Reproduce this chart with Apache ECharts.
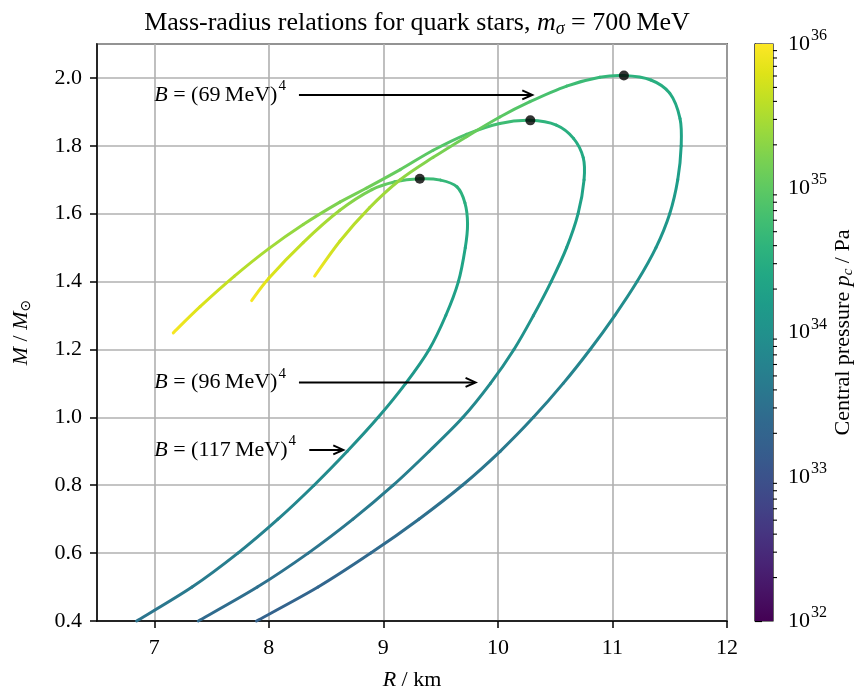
<!DOCTYPE html>
<html><head><meta charset="utf-8">
<script src="https://cdn.jsdelivr.net/npm/echarts/dist/echarts.min.js"></script>
<style>html,body{margin:0;padding:0;background:#fff}#c{width:859px;height:689px}</style>
</head><body><div id="c"></div>
<script>
// ---------------- data ----------------
// Curve for B = (117 MeV)^4
const R_A = [6.846, 7.33, 7.73, 8.08, 8.395, 8.685, 8.955, 9.195, 9.40, 9.545, 9.655, 9.715, 9.735, 9.712, 9.643, 9.50, 9.318, 9.10, 8.90, 8.62, 8.30, 8.00, 7.85];
const M_A = [0.40, 0.50, 0.60, 0.70, 0.80, 0.90, 1.00, 1.10, 1.20, 1.30, 1.40, 1.50, 1.57, 1.632, 1.679, 1.699, 1.703, 1.694, 1.671, 1.610, 1.515, 1.410, 1.344];
const P_A = [33.55, 33.63, 33.72, 33.80, 33.88, 33.96, 34.03, 34.10, 34.17, 34.23, 34.30, 34.37, 34.44, 34.52, 34.60, 34.68, 34.76, 34.95, 35.12, 35.38, 35.60, 35.80, 35.95];
// Curve for B = (96 MeV)^4
const R_B = [7.384, 7.90, 8.344, 8.735, 9.086, 9.40, 9.695, 9.935, 10.14, 10.31, 10.465, 10.60, 10.70, 10.752, 10.745, 10.66, 10.51, 10.283, 10.017, 9.726, 9.435, 9.147, 8.85, 8.62, 8.30, 8.00, 7.70, 7.40, 7.166];
const M_B = [0.40, 0.50, 0.60, 0.70, 0.80, 0.90, 1.00, 1.10, 1.20, 1.30, 1.40, 1.50, 1.60, 1.70, 1.765, 1.822, 1.861, 1.875, 1.866, 1.834, 1.787, 1.730, 1.675, 1.634, 1.568, 1.497, 1.416, 1.326, 1.249];
const P_B = [33.40, 33.48, 33.55, 33.62, 33.69, 33.76, 33.84, 33.91, 33.98, 34.05, 34.12, 34.19, 34.26, 34.34, 34.41, 34.48, 34.55, 34.64, 34.76, 34.86, 34.95, 35.04, 35.13, 35.20, 35.32, 35.45, 35.60, 35.78, 35.95];
// Curve for B = (69 MeV)^4
const R_C = [7.893, 8.43, 8.89, 9.31, 9.69, 10.02, 10.31, 10.57, 10.805, 11.02, 11.215, 11.38, 11.50, 11.57, 11.60, 11.59, 11.50, 11.335, 11.10, 10.89, 10.60, 10.28, 10.017, 9.726, 9.435, 9.147, 8.88, 8.62, 8.40];
const M_C = [0.40, 0.50, 0.60, 0.70, 0.80, 0.90, 1.00, 1.10, 1.20, 1.30, 1.40, 1.50, 1.60, 1.70, 1.80, 1.88, 1.955, 1.994, 2.007, 2.002, 1.976, 1.930, 1.885, 1.827, 1.766, 1.700, 1.618, 1.519, 1.416];
const P_C = [33.25, 33.32, 33.40, 33.47, 33.55, 33.62, 33.70, 33.77, 33.84, 33.91, 33.98, 34.05, 34.13, 34.21, 34.29, 34.37, 34.45, 34.52, 34.58, 34.66, 34.76, 34.88, 34.98, 35.10, 35.22, 35.35, 35.48, 35.64, 35.95];
// maximum-mass points
const R_MAX = [9.318, 10.283, 11.10];
const M_MAX = [1.703, 1.875, 2.007];
// annotations
const B_LABELS = ['69', '96', '117'];
const B_LABEL_M = [1.950, 1.103, 0.904];
const B_TEXT_R = [7.0, 7.0, 7.0];
const B_ARROW_FROM = [8.263, 8.263, 8.353];
const B_ARROW_TO = [10.30, 9.805, 8.65];
// colour bar (log10 of pressure in Pa)
const CB_MIN = 32, CB_MAX = 36;

// ---------------- styling helpers ----------------
const FONT = 'Liberation Serif';
const VIRIDIS = ['#440154','#471365','#482475','#463480','#414487','#3b528b','#355f8d','#306a8e','#2a788e','#25848e','#21918c','#1e9c89','#22a884','#2fb47c','#44bf70','#5ec962','#7ad151','#9bd93c','#bddf26','#dfe318','#fde725'];
function hex2rgb(h){return [parseInt(h.substr(1,2),16),parseInt(h.substr(3,2),16),parseInt(h.substr(5,2),16)];}
function viridis(t){
  t = Math.max(0, Math.min(1, t));
  const n = VIRIDIS.length - 1, f = t * n, i = Math.min(Math.floor(f), n - 1), u = f - i;
  const a = hex2rgb(VIRIDIS[i]), b = hex2rgb(VIRIDIS[i + 1]);
  return 'rgb(' + a.map((v, k) => Math.round(v + (b[k] - v) * u)).join(',') + ')';
}
function pColor(p){ return viridis((p - CB_MIN) / (CB_MAX - CB_MIN)); }

function segments(R, M, P){
  const out = [], n = R.length;
  for (let i = 0; i < n - 1; i++) {
    const a = Math.max(i - 1, 0), d = Math.min(i + 2, n - 1);
    out.push([R[a], M[a], R[i], M[i], R[i+1], M[i+1], R[d], M[d], P[i], P[i+1]]);
  }
  return out;
}
function curveRender(params, api){
  const p0 = api.coord([api.value(0), api.value(1)]);
  const p1 = api.coord([api.value(2), api.value(3)]);
  const p2 = api.coord([api.value(4), api.value(5)]);
  const p3 = api.coord([api.value(6), api.value(7)]);
  const c1 = pColor(api.value(8)), c2 = pColor(api.value(9));
  const cp1 = [p1[0] + (p2[0] - p0[0]) / 6, p1[1] + (p2[1] - p0[1]) / 6];
  const cp2 = [p2[0] - (p3[0] - p1[0]) / 6, p2[1] - (p3[1] - p1[1]) / 6];
  return {
    type: 'bezierCurve',
    shape: {x1: p1[0], y1: p1[1], x2: p2[0], y2: p2[1], cpx1: cp1[0], cpy1: cp1[1], cpx2: cp2[0], cpy2: cp2[1]},
    style: {fill: 'none', lineWidth: 3, lineCap: 'round',
      stroke: new echarts.graphic.LinearGradient(p1[0], p1[1], p2[0], p2[1], [{offset: 0, color: c1}, {offset: 1, color: c2}], true)}
  };
}
function curveSeries(R, M, P){
  return {type: 'custom', xAxisIndex: 0, yAxisIndex: 0, renderItem: curveRender,
    data: segments(R, M, P), encode: {x: [2, 4], y: [3, 5]}, silent: true, z: 3};
}

const annData = B_LABELS.map((b, i) => [B_TEXT_R[i], B_LABEL_M[i], B_ARROW_FROM[i], B_ARROW_TO[i], i]);
function annRender(params, api){
  const i = api.value(4);
  const t = api.coord([api.value(0), api.value(1)]);
  const s = api.coord([api.value(2), api.value(1)]);
  const e = api.coord([api.value(3), api.value(1)]);
  return {type: 'group', children: [
    {type: 'text', x: t[0], y: t[1], style: {
      text: '{i|B} = (' + B_LABELS[i] + '\u2009MeV){s|4}', fill: '#000', align: 'left', verticalAlign: 'middle',
      font: '22px "' + FONT + '"',
      rich: {i: {fontStyle: 'italic', fontSize: 22, fontFamily: FONT}, s: {fontSize: 15, fontFamily: FONT, padding: [0, 0, 17, 1]}}}},
    {type: 'line', shape: {x1: s[0], y1: s[1], x2: e[0] - 1, y2: e[1]}, style: {stroke: '#000', lineWidth: 2}},
    {type: 'polyline', shape: {points: [[e[0] - 10, e[1] - 4.5], [e[0], e[1]], [e[0] - 10, e[1] + 4.5]]}, style: {stroke: '#000', fill: 'none', lineWidth: 2}}
  ]};
}

const minorTicks = [];
for (let n = CB_MIN; n < CB_MAX; n++) for (let k = 2; k <= 9; k++) minorTicks.push(n + Math.log10(k));

const chart = echarts.init(document.getElementById('c'), null, {renderer: 'canvas'});
const axisCommon = {
  axisLine: {show: true, onZero: false, lineStyle: {color: '#000', width: 1.5}},
  axisTick: {show: true, inside: false, length: 7, lineStyle: {color: '#000', width: 1.5}},
  splitLine: {show: true, lineStyle: {color: '#b0b0b0', width: 1.6}},
};
chart.setOption({
  animation: false,
  backgroundColor: '#fff',
  textStyle: {fontFamily: FONT, color: '#000'},
  title: {
    text: 'Mass-radius relations for quark stars, {i|m}{sub|σ} = 700\u2009MeV',
    left: 412, top: 4, textAlign: 'center',
    textStyle: {fontFamily: FONT, fontSize: 26, fontWeight: 'normal', color: '#000',
      rich: {i: {fontStyle: 'italic', fontSize: 26, fontFamily: FONT}, sub: {fontStyle: 'italic', fontSize: 18, fontFamily: FONT, padding: [11, 0, 0, 0]}}}
  },
  grid: [
    {left: 97, right: 132, top: 44, bottom: 68, show: true, borderColor: '#000', borderWidth: 1.5, containLabel: false, outerBoundsMode: 'none'},
    {left: 755, width: 18, top: 44, bottom: 68, show: true, borderColor: '#000', borderWidth: 1.2, containLabel: false, outerBoundsMode: 'none'}
  ],
  xAxis: [
    Object.assign({}, axisCommon, {type: 'value', gridIndex: 0, min: 6.5, max: 12, splitNumber: 5,
      axisLabel: {showMinLabel: false, fontSize: 22, color: '#000', margin: 16, fontFamily: FONT,
        formatter: v => (Math.abs(v - Math.round(v)) < 1e-6 ? String(Math.round(v)) : '')},
      name: '{i|R} / km', nameLocation: 'middle', nameGap: 48,
      nameTextStyle: {fontSize: 22, color: '#000', fontFamily: FONT, rich: {i: {fontStyle: 'italic', fontSize: 22, fontFamily: FONT}}}}),
    {type: 'value', gridIndex: 1, min: 0, max: 1, show: false}
  ],
  yAxis: [
    Object.assign({}, axisCommon, {type: 'value', gridIndex: 0, min: 0.4, max: 2.1, interval: 0.2,
      axisLabel: {showMaxLabel: false, fontSize: 22, color: '#000', margin: 15, fontFamily: FONT, formatter: v => v.toFixed(1)},
      name: '{i|M} / {i|M}{sub|⊙}', nameLocation: 'middle', nameGap: 64, nameRotate: 90,
      nameTextStyle: {fontSize: 22, color: '#000', fontFamily: FONT,
        rich: {i: {fontStyle: 'italic', fontSize: 22, fontFamily: FONT}, sub: {fontSize: 14, fontFamily: 'DejaVu Sans', padding: [10, 0, 0, 0]}}}}),
    {type: 'value', gridIndex: 1, min: CB_MIN, max: CB_MAX, interval: 1, position: 'right',
      axisLine: {show: true, lineStyle: {color: '#000', width: 1.2}},
      axisTick: {show: true, inside: false, length: 7, lineStyle: {color: '#000', width: 1.2}},
      splitLine: {show: false},
      axisLabel: {margin: 15, color: '#000', fontFamily: FONT, fontSize: 22,
        formatter: v => '{b|10}{s|' + Math.round(v) + '}',
        rich: {b: {fontSize: 22, fontFamily: FONT}, s: {fontSize: 16, fontFamily: FONT, padding: [0, 0, 16, 1]}}},
      name: 'Central pressure {i|p}{sub|c} / Pa', nameLocation: 'middle', nameGap: 58, nameRotate: 90,
      nameTextStyle: {fontSize: 22, color: '#000', fontFamily: FONT,
        rich: {i: {fontStyle: 'italic', fontSize: 22, fontFamily: FONT}, sub: {fontStyle: 'italic', fontSize: 15, fontFamily: FONT, padding: [10, 0, 0, 0]}}}}
  ],
  series: [
    curveSeries(R_A, M_A, P_A),
    curveSeries(R_B, M_B, P_B),
    curveSeries(R_C, M_C, P_C),
    {type: 'scatter', xAxisIndex: 0, yAxisIndex: 0, symbol: 'circle', symbolSize: 10,
      itemStyle: {color: '#000'}, data: R_MAX.map((r, i) => [r, M_MAX[i]]), z: 5, silent: true},
    {type: 'custom', xAxisIndex: 0, yAxisIndex: 0, renderItem: annRender, data: annData,
      encode: {x: [0, 3], y: 1}, z: 6, silent: true},
    {type: 'custom', xAxisIndex: 1, yAxisIndex: 1, silent: true, z: 1,
      data: [[0, CB_MIN, 1, CB_MAX]], encode: {x: [0, 2], y: [1, 3]},
      renderItem: function (params, api) {
        const tl = api.coord([api.value(0), api.value(3)]);
        const br = api.coord([api.value(2), api.value(1)]);
        const stops = VIRIDIS.map((c, k) => ({offset: k / (VIRIDIS.length - 1), color: c}));
        return {type: 'rect', shape: {x: tl[0], y: tl[1], width: br[0] - tl[0], height: br[1] - tl[1]},
          style: {fill: new echarts.graphic.LinearGradient(0, 1, 0, 0, stops)}};
      }},
    {type: 'custom', xAxisIndex: 1, yAxisIndex: 1, silent: true, z: 2,
      data: minorTicks.map(v => [1, v]), encode: {x: 0, y: 1},
      renderItem: function (params, api) {
        const p = api.coord([api.value(0), api.value(1)]);
        return {type: 'line', shape: {x1: p[0], y1: p[1], x2: p[0] + 4, y2: p[1]}, style: {stroke: '#000', lineWidth: 1.1}};
      }}
  ]
});
</script></body></html>
